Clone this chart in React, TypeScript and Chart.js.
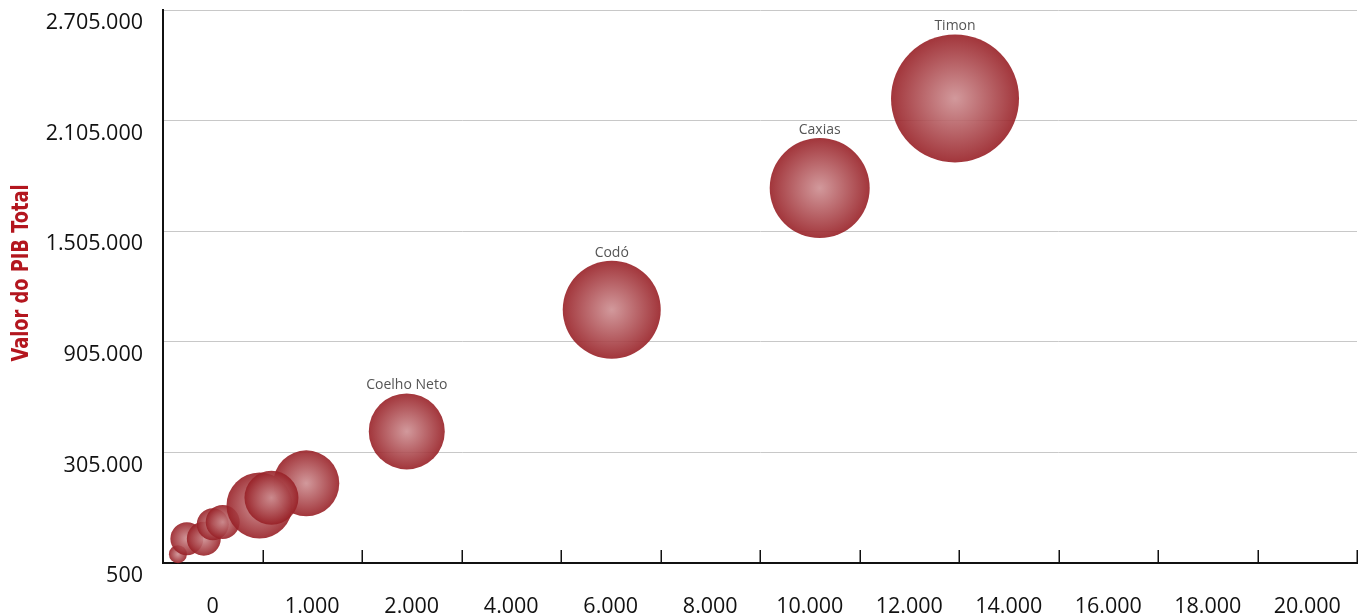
import React, { useEffect, useRef } from 'react';
import { Chart, registerables } from 'chart.js';

Chart.register(...registerables);

// Bubble data (positions in axis units: x index 0..12, y index 0..5; r = bubble size)
const municipios = ['', '', '', '', '', '', '', '', 'Coelho Neto', 'Codó', 'Caxias', 'Timon'];
const xValues = [0.15, 0.24, 0.41, 0.5, 0.6, 1.44, 0.97, 1.09, 2.45, 4.51, 6.6, 7.96];
const yValues = [0.08, 0.22, 0.22, 0.35, 0.37, 0.72, 0.52, 0.59, 1.19, 2.29, 3.39, 4.2];
const sizes = [9, 16.5, 17, 16, 17, 33, 33, 27, 38, 49, 50, 64];

const xTickLabels = ['0', '1.000', '2.000', '4.000', '6.000', '8.000', '10.000', '12.000', '14.000', '16.000', '18.000', '20.000'];
const yTickLabels = ['500', '305.000', '905.000', '1.505.000', '2.105.000', '2.705.000'];
const yTitle = 'Valor do PIB Total';

const FONT = "'Open Sans', 'Noto Sans', sans-serif";

const zeroPad = (s: any) => {
  s.paddingTop = 0;
  s.paddingBottom = 0;
  s.paddingLeft = 0;
  s.paddingRight = 0;
};

export default function App() {
  const ref = useRef<HTMLCanvasElement>(null);

  useEffect(() => {
    if (!ref.current) return;
    const points = xValues.map((x, i) => ({ x, y: yValues[i], r: sizes[i] }));

    const extras = {
      id: 'extras',
      afterDatasetsDraw(chart: any) {
        const ctx = chart.ctx;
        const xs = chart.scales.x;
        const area = chart.chartArea;
        // inward tick marks on x axis
        ctx.save();
        ctx.strokeStyle = '#111';
        ctx.lineWidth = 1.5;
        for (let i = 1; i <= xTickLabels.length; i++) {
          const px = Math.round(xs.getPixelForValue(i)) + 0.25;
          ctx.beginPath();
          ctx.moveTo(px, area.bottom);
          ctx.lineTo(px, area.bottom - 13);
          ctx.stroke();
        }
        // bubble labels
        const meta = chart.getDatasetMeta(0);
        ctx.font = `14px ${FONT}`;
        ctx.fillStyle = '#555';
        ctx.textAlign = 'center';
        ctx.textBaseline = 'middle';
        meta.data.forEach((el: any, i: number) => {
          const name = municipios[i];
          if (!name) return;
          ctx.fillText(name, el.x, el.y - sizes[i] - 8);
        });
        // y axis title
        ctx.translate(22, 273);
        ctx.rotate(-Math.PI / 2);
        ctx.scale(0.9, 1.05);
        ctx.font = "bold 22px 'Liberation Sans Narrow', 'DejaVu Sans Condensed', sans-serif";
        ctx.fillStyle = '#b3161e';
        ctx.fillText(yTitle, 0, 0);
        ctx.restore();
      },
    };

    const chart = new Chart(ref.current, {
      type: 'bubble',
      data: {
        datasets: [
          {
            data: points,
            borderWidth: 0,
            clip: false,
            backgroundColor: (c: any) => {
              const raw = c.raw;
              const ch = c.chart;
              const fallback = 'rgba(160,40,45,0.88)';
              if (!raw || !ch.scales || !ch.scales.x || !ch.scales.y) return fallback;
              const cx = ch.scales.x.getPixelForValue(raw.x);
              const cy = ch.scales.y.getPixelForValue(raw.y);
              if (!isFinite(cx) || !isFinite(cy) || !isFinite(raw.r)) return fallback;
              const g = ch.ctx.createRadialGradient(cx, cy, 0, cx, cy, raw.r);
              g.addColorStop(0, 'rgba(205,142,145,0.9)');
              g.addColorStop(1, 'rgba(152,32,38,0.9)');
              return g;
            },
          },
        ],
      },
      options: {
        responsive: false,
        animation: false,
        events: [],
        layout: { autoPadding: false, padding: { top: 10, right: 8, bottom: 0, left: 0 } },
        plugins: { legend: { display: false }, tooltip: { enabled: false } },
        scales: {
          x: {
            type: 'linear',
            min: 0,
            max: 12,
            afterBuildTicks: (s: any) => {
              s.ticks = xTickLabels.map((_, i) => ({ value: i + 0.5 }));
            },
            afterFit: (s: any) => {
              s.height = 53;
              zeroPad(s);
            },
            grid: { display: false, drawTicks: false },
            border: { display: true, color: '#111', width: 2 },
            ticks: {
              autoSkip: false,
              maxRotation: 0,
              padding: 31,
              color: '#111',
              font: { family: FONT, size: 21.5 },
              callback: (v: any) => xTickLabels[Math.floor(Number(v))] ?? '',
            },
          },
          y: {
            type: 'linear',
            min: 0,
            max: 5,
            afterBuildTicks: (s: any) => {
              s.ticks = yTickLabels.map((_, i) => ({ value: i }));
            },
            afterFit: (s: any) => {
              s.width = 163;
              zeroPad(s);
            },
            grid: { color: '#c8c8c8', lineWidth: 1, drawTicks: false },
            border: { display: true, color: '#111', width: 2 },
            ticks: {
              autoSkip: false,
              padding: 20,
              labelOffset: 13,
              color: '#111',
              font: { family: FONT, size: 21.5 },
              callback: (v: any) => yTickLabels[Math.round(Number(v))] ?? '',
            },
          },
        },
      },
      plugins: [extras],
    } as any);

    return () => chart.destroy();
  }, []);

  return (
    <div style={{ position: 'fixed', left: 0, top: 0, width: 1365, height: 616, background: '#fff' }}>
      <canvas ref={ref} width={1365} height={616} style={{ display: 'block' }} />
    </div>
  );
}
